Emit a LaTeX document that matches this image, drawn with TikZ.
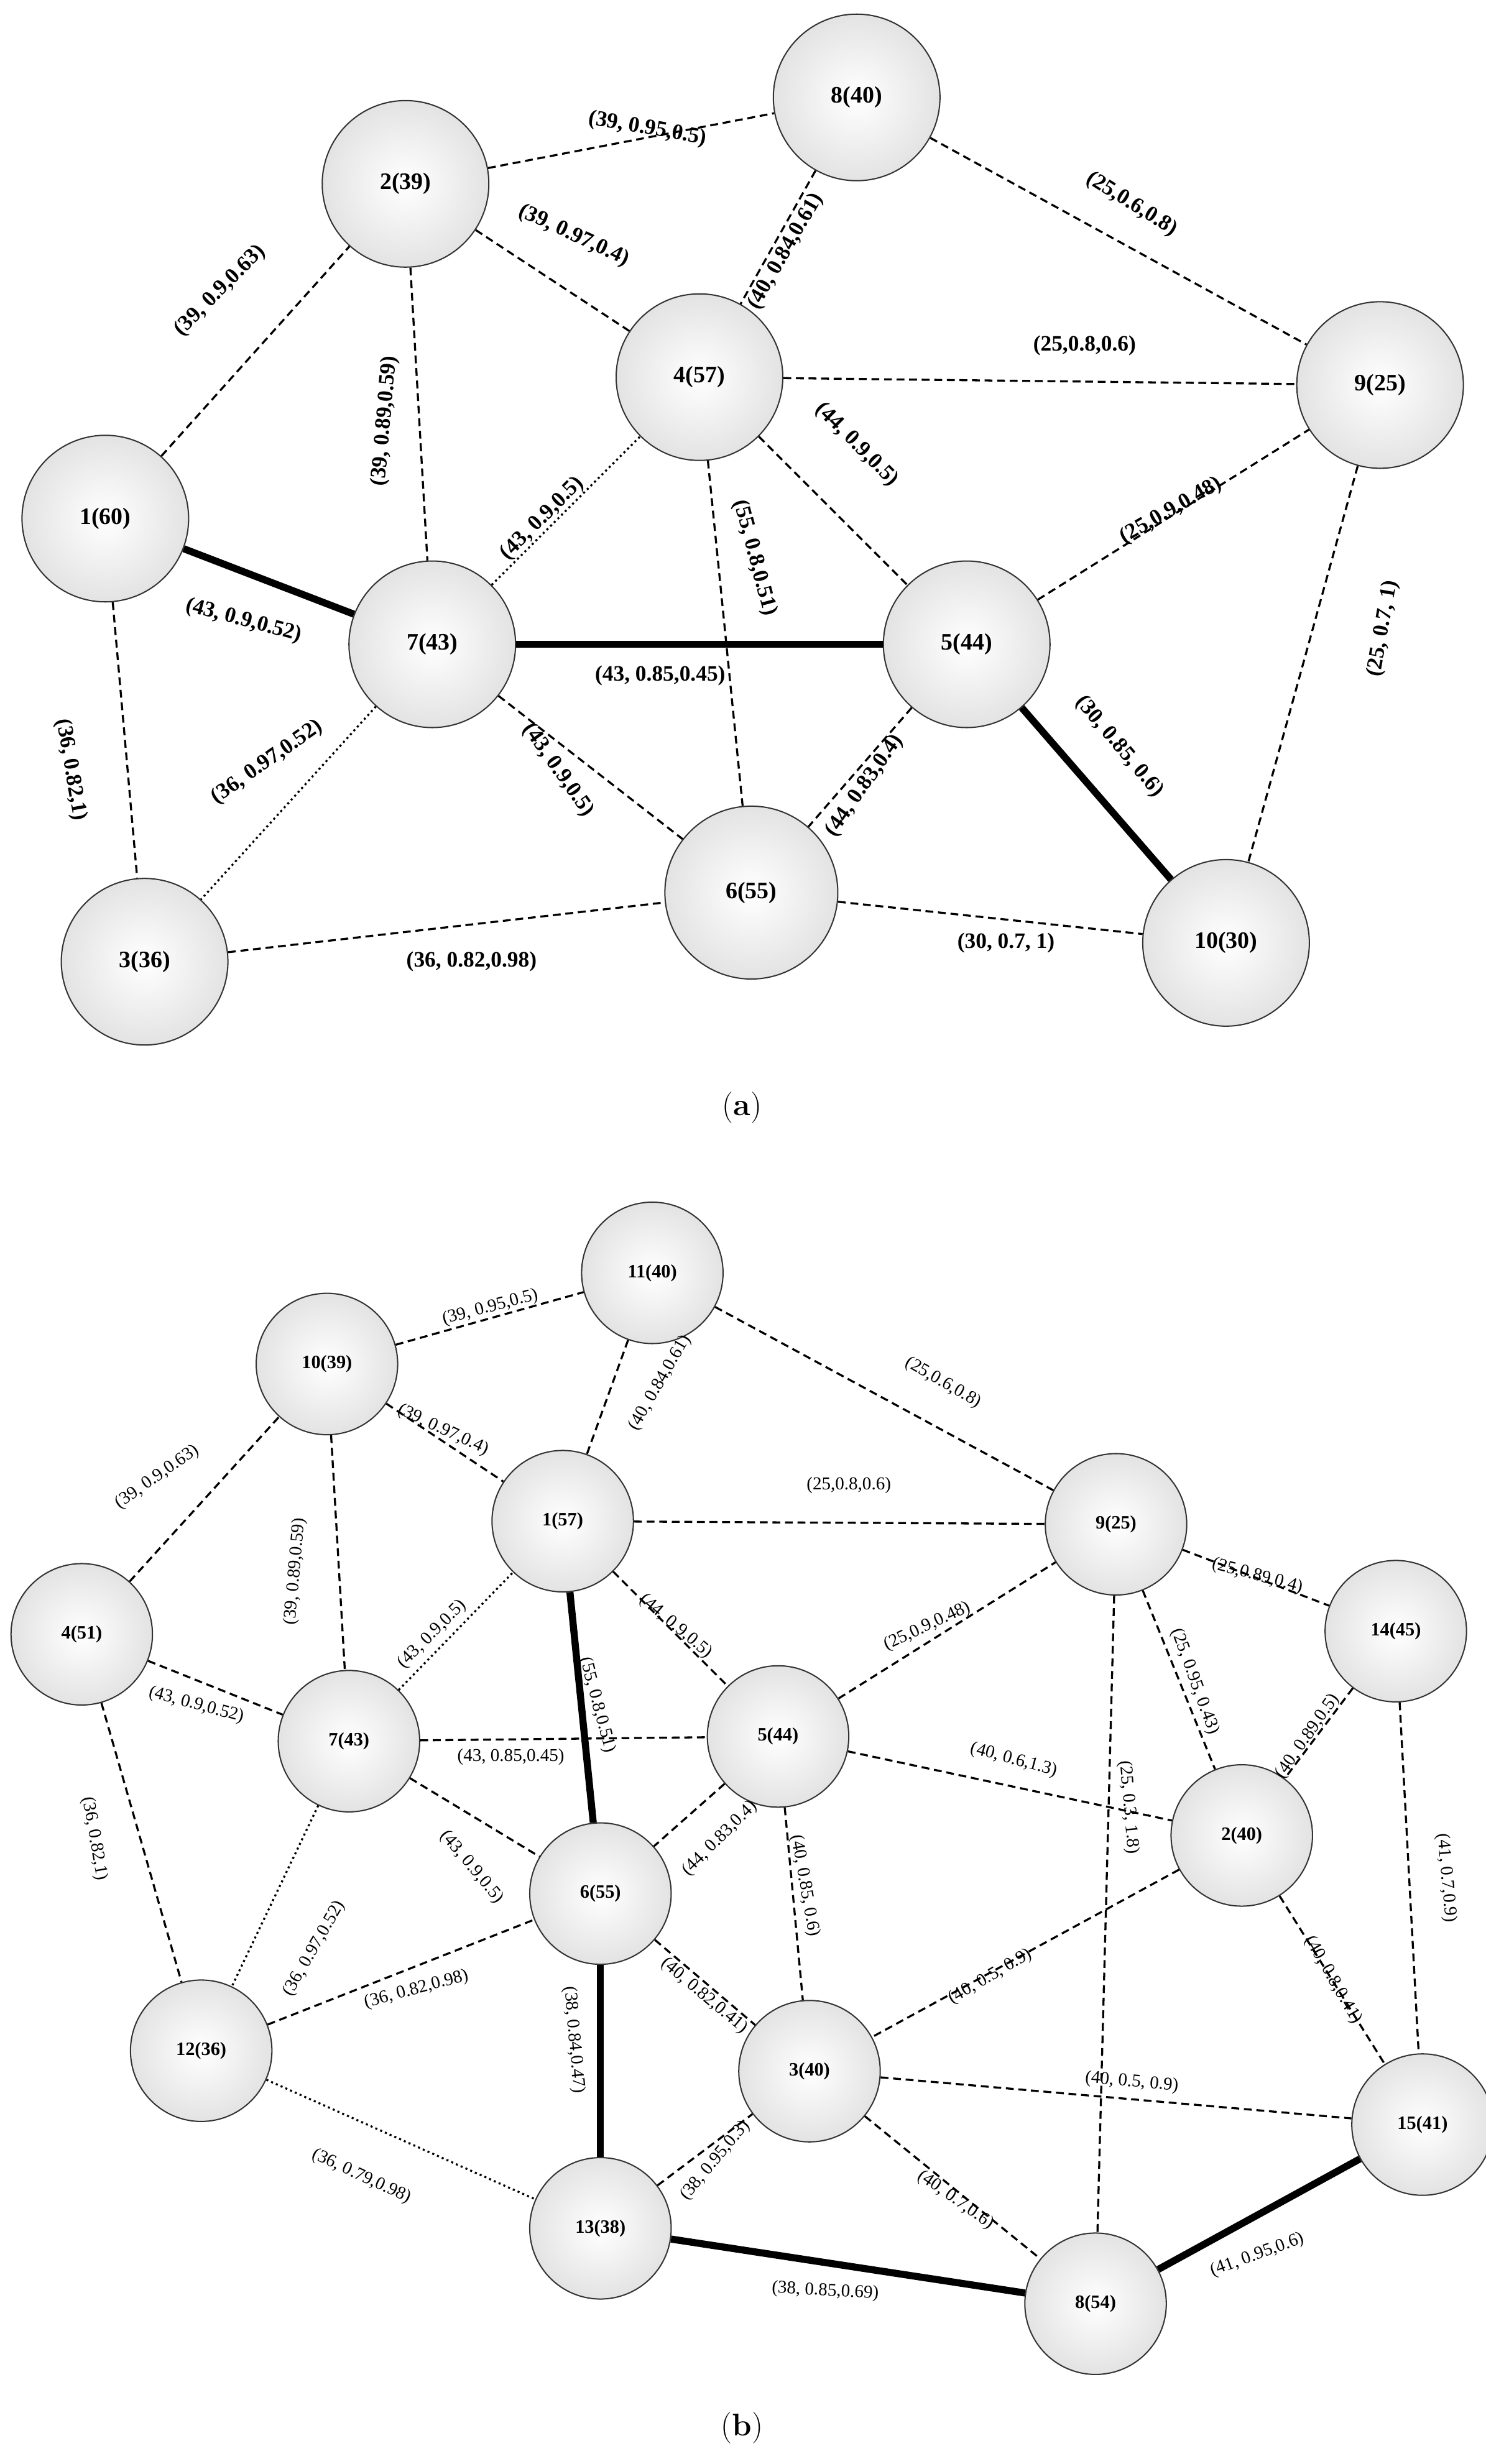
\documentclass[tikz,border=0pt]{standalone}
\usepackage{fontspec}
\setmainfont{Liberation Serif}
\newfontfamily\lmr{Latin Modern Roman}
\begin{document}
\begin{tikzpicture}[x=1pt,y=-1pt,
 ca/.style={circle,draw=black!80,line width=0.8pt,inner color=white,outer color=gray!22,minimum size=106pt,font=\fontsize{15}{16}\selectfont\bfseries},
 cb/.style={circle,draw=black!80,line width=0.8pt,inner color=white,outer color=gray!22,minimum size=90pt,font=\fontsize{12}{13}\selectfont\bfseries},
 e/.style={dashed,line width=1.3pt,dash pattern=on 5pt off 3pt},
 d/.style={dotted,line width=1.3pt},
 t/.style={line width=4.5pt},
 la/.style={font=\fontsize{14}{15}\selectfont\bfseries,inner sep=1pt},
 lb/.style={font=\fontsize{11.5}{12}\selectfont,inner sep=1pt}]
\useasboundingbox (0,0) rectangle (945,1568);
% (a)
\node[ca] (a1) at (67,330) {1(60)};
\node[ca] (a2) at (258,117) {2(39)};
\node[ca] (a8) at (545,62) {8(40)};
\node[ca] (a4) at (445,240) {4(57)};
\node[ca] (a9) at (878,245) {9(25)};
\node[ca] (a7) at (275,410) {7(43)};
\node[ca] (a5) at (615,410) {5(44)};
\node[ca,minimum size=110pt] (a6) at (478,568) {6(55)};
\node[ca] (a3) at (92,612) {3(36)};
\node[ca] (a10) at (780,600) {10(30)};
\draw[e] (a2)--(a8); \draw[e] (a1)--(a2); \draw[e] (a2)--(a4); \draw[e] (a2)--(a7);
\draw[e] (a8)--(a4); \draw[e] (a8)--(a9); \draw[e] (a4)--(a9); \draw[t] (a1)--(a7);
\draw[d] (a7)--(a4); \draw[e] (a4)--(a6); \draw[e] (a4)--(a5); \draw[t] (a7)--(a5);
\draw[e] (a5)--(a9); \draw[e] (a9)--(a10); \draw[e] (a1)--(a3); \draw[d] (a7)--(a3);
\draw[e] (a7)--(a6); \draw[e] (a5)--(a6); \draw[t] (a5)--(a10); \draw[e] (a3)--(a6);
\draw[e] (a6)--(a10);
\node[la,rotate=-10] (la1) at (412,82) {(39, 0.95,0.5)};
\node[la,rotate=45] (la2) at (140,185) {(39, 0.9,0.63)};
\node[la,rotate=-25] (la3) at (365,150) {(39, 0.97,0.4)};
\node[la,rotate=85] (la4) at (245,268) {(39, 0.89,0.59)};
\node[la,rotate=60] (la5) at (500,160) {(40, 0.84,0.61)};
\node[la,rotate=-32] (la6) at (720,130) {(25,0.6,0.8)};
\node[la] (la7) at (690,220) {(25,0.8,0.6)};
\node[la,rotate=-15] (la8) at (155,395) {(43, 0.9,0.52)};
\node[la,rotate=45] (la9) at (345,330) {(43, 0.9,0.5)};
\node[la,rotate=-75] (la10) at (480,355) {(55, 0.8,0.51)};
\node[la,rotate=-45] (la11) at (545,283) {(44, 0.9,0.5)};
\node[la] (la12) at (420,430) {(43, 0.85,0.45)};
\node[la,rotate=30] (la13) at (745,325) {(25,0.9,0.48)};
\node[la,rotate=80] (la14) at (880,400) {(25, 0.7, 1)};
\node[la,rotate=-80] (la15) at (45,490) {(36, 0.82,1)};
\node[la,rotate=35] (la16) at (170,485) {(36, 0.97,0.52)};
\node[la,rotate=-55] (la17) at (355,490) {(43, 0.9,0.5)};
\node[la,rotate=55] (la18) at (550,500) {(44, 0.83,0.4)};
\node[la,rotate=-50] (la19) at (712,475) {(30, 0.85, 0.6)};
\node[la] (la20) at (300,612) {(36, 0.82,0.98)};
\node[la] (la21) at (640,600) {(30, 0.7, 1)};
\node[font=\lmr\fontsize{20}{22}\selectfont] (capa) at (472,705) {(\textbf{a})};
% (b)
\node[cb] (b11) at (415,810) {11(40)};
\node[cb] (b10) at (208,868) {10(39)};
\node[cb] (b1) at (358,968) {1(57)};
\node[cb] (b9) at (710,970) {9(25)};
\node[cb] (b14) at (888,1038) {14(45)};
\node[cb] (b4) at (52,1040) {4(51)};
\node[cb] (b7) at (222,1108) {7(43)};
\node[cb] (b5) at (495,1105) {5(44)};
\node[cb] (b2) at (790,1168) {2(40)};
\node[cb] (b6) at (382,1205) {6(55)};
\node[cb] (b12) at (128,1305) {12(36)};
\node[cb] (b3) at (515,1318) {3(40)};
\node[cb] (b15) at (905,1352) {15(41)};
\node[cb] (b13) at (382,1418) {13(38)};
\node[cb] (b8) at (697,1466) {8(54)};
\draw[e] (b10)--(b11); \draw[e] (b4)--(b10); \draw[e] (b10)--(b1); \draw[e] (b10)--(b7);
\draw[e] (b11)--(b1); \draw[e] (b11)--(b9); \draw[e] (b1)--(b9); \draw[e] (b1)--(b5);
\draw[d] (b7)--(b1); \draw[t] (b1)--(b6); \draw[e] (b4)--(b7); \draw[e] (b7)--(b5);
\draw[e] (b5)--(b9); \draw[e] (b9)--(b14); \draw[e] (b9)--(b2); \draw[e] (b9)--(b8);
\draw[e] (b14)--(b2); \draw[e] (b14)--(b15); \draw[e] (b5)--(b2); \draw[e] (b5)--(b3);
\draw[e] (b4)--(b12); \draw[d] (b7)--(b12); \draw[e] (b7)--(b6); \draw[e] (b5)--(b6);
\draw[e] (b2)--(b15); \draw[e] (b2)--(b3); \draw[e] (b12)--(b6); \draw[e] (b6)--(b3);
\draw[t] (b6)--(b13); \draw[e] (b3)--(b15); \draw[d] (b12)--(b13); \draw[e] (b13)--(b3);
\draw[e] (b3)--(b8); \draw[t] (b13)--(b8); \draw[t] (b8)--(b15);
\node[lb,rotate=15] (lb1) at (312,832) {(39, 0.95,0.5)};
\node[lb,rotate=35] (lb2) at (100,940) {(39, 0.9,0.63)};
\node[lb,rotate=-25] (lb3) at (282,910) {(39, 0.97,0.4)};
\node[lb,rotate=85] (lb4) at (188,1000) {(39, 0.89,0.59)};
\node[lb,rotate=60] (lb5) at (420,880) {(40, 0.84,0.61)};
\node[lb,rotate=-30] (lb6) at (600,880) {(25,0.6,0.8)};
\node[lb] (lb7) at (540,945) {(25,0.8,0.6)};
\node[lb,rotate=-40] (lb8) at (430,1035) {(44, 0.9,0.5)};
\node[lb,rotate=45] (lb9) at (275,1040) {(43, 0.9,0.5)};
\node[lb,rotate=-75] (lb10) at (380,1085) {(55, 0.8,0.51)};
\node[lb,rotate=-15] (lb11) at (125,1085) {(43, 0.9,0.52)};
\node[lb] (lb12) at (325,1118) {(43, 0.85,0.45)};
\node[lb,rotate=25] (lb13) at (590,1035) {(25,0.9,0.48)};
\node[lb,rotate=-15] (lb14) at (800,1003) {(25,0.89,0.4)};
\node[lb,rotate=-70] (lb15) at (760,1070) {(25, 0.95, 0.43)};
\node[lb,rotate=-85] (lb16) at (718,1150) {(25, 0.3, 1.8)};
\node[lb,rotate=55] (lb17) at (832,1105) {(40, 0.89,0.5)};
\node[lb,rotate=-85] (lb18) at (920,1195) {(41, 0.7,0.9)};
\node[lb,rotate=-15] (lb19) at (645,1120) {(40, 0.6,1.3)};
\node[lb,rotate=-80] (lb20) at (512,1200) {(40, 0.85, 0.6)};
\node[lb,rotate=-80] (lb21) at (60,1170) {(36, 0.82,1)};
\node[lb,rotate=60] (lb22) at (200,1240) {(36, 0.97,0.52)};
\node[lb,rotate=-50] (lb23) at (300,1188) {(43, 0.9,0.5)};
\node[lb,rotate=45] (lb24) at (458,1170) {(44, 0.83,0.4)};
\node[lb,rotate=-60] (lb25) at (848,1260) {(40, 0.8,0.41)};
\node[lb,rotate=30] (lb26) at (630,1258) {(40, 0.5, 0.9)};
\node[lb,rotate=15] (lb27) at (265,1266) {(36, 0.82,0.98)};
\node[lb,rotate=-40] (lb28) at (448,1270) {(40, 0.82,0.41)};
\node[lb,rotate=-85] (lb29) at (365,1298) {(38, 0.84,0.47)};
\node[lb,rotate=-5] (lb30) at (720,1325) {(40, 0.5, 0.9)};
\node[lb,rotate=-25] (lb31) at (230,1385) {(36, 0.79,0.98)};
\node[lb,rotate=50] (lb32) at (455,1375) {(38, 0.95,0.3)};
\node[lb,rotate=-35] (lb33) at (608,1400) {(40, 0.7,0.6)};
\node[lb,rotate=-3] (lb34) at (525,1458) {(38, 0.85,0.69)};
\node[lb,rotate=20] (lb35) at (800,1435) {(41, 0.95,0.6)};
\node[font=\lmr\fontsize{20}{22}\selectfont] (capb) at (472,1545) {(\textbf{b})};
\end{tikzpicture}
\end{document}
